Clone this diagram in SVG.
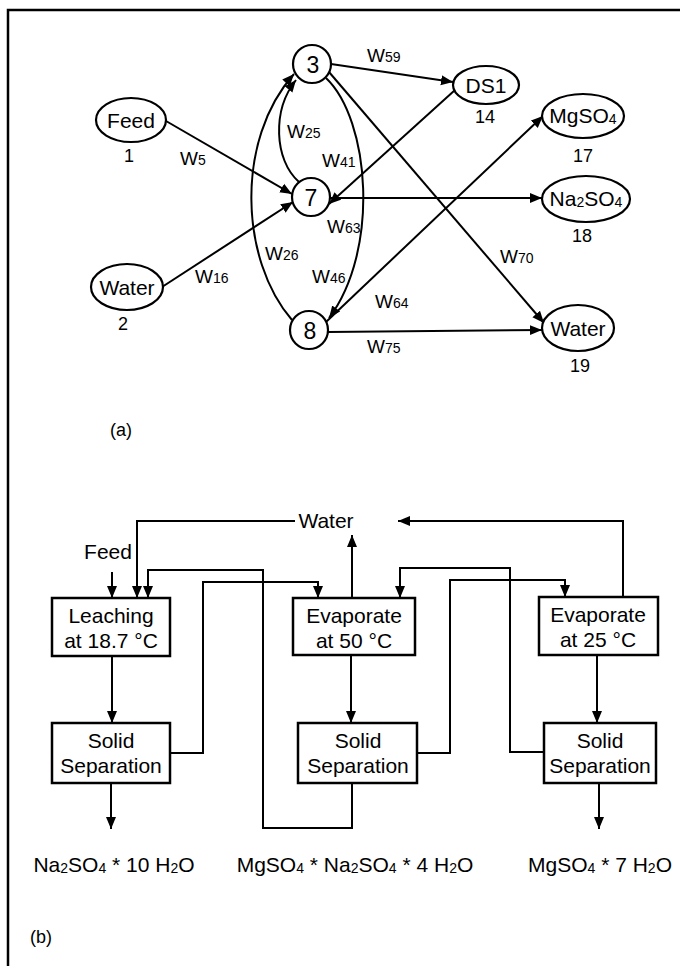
<svg xmlns="http://www.w3.org/2000/svg" width="680" height="966" viewBox="0 0 680 966">
<defs>
<marker id="ah" markerUnits="userSpaceOnUse" markerWidth="13" markerHeight="11" refX="12" refY="5.5" orient="auto">
<path d="M0,0.5 L12,5.5 L0,10.5 z" fill="#000"/>
</marker>
<style>
.ln{fill:none;stroke:#000;stroke-width:2}
.nd{fill:#fff;stroke:#000;stroke-width:2.2}
.bx{fill:#fff;stroke:#000;stroke-width:2.5}
text{font-family:"Liberation Sans",Arial,sans-serif;fill:#000}
.c{text-anchor:middle}
.lb{font-size:21px}
.num{font-size:18px}
.dg{font-size:23px}
.w{font-size:19px}
.s{font-size:14px}
.bt{font-size:21px}
</style>
</defs>
<rect x="0" y="0" width="680" height="966" fill="#fff"/>
<path d="M8,966 L8,10 L680,10" fill="none" stroke="#000" stroke-width="2.5"/>

<g id="connectors">
<line class="ln" x1="166" y1="121" x2="292" y2="194" marker-end="url(#ah)"/>
<line class="ln" x1="162" y1="287" x2="293" y2="202" marker-end="url(#ah)"/>
<line class="ln" x1="331" y1="64" x2="453" y2="82" marker-end="url(#ah)"/>
<line class="ln" x1="455" y1="90" x2="329" y2="204" marker-end="url(#ah)"/>
<line class="ln" x1="329" y1="72" x2="544" y2="323" marker-end="url(#ah)"/>
<line class="ln" x1="330" y1="198" x2="542" y2="198" marker-end="url(#ah)"/>
<line class="ln" x1="326" y1="322" x2="543" y2="116" marker-end="url(#ah)"/>
<line class="ln" x1="328" y1="332" x2="542" y2="330" marker-end="url(#ah)"/>
<path class="ln" d="M299,182 C274,160 272,110 296,80" marker-end="url(#ah)"/>
<path class="ln" d="M292,320 C240,260 235,140 294,74" marker-end="url(#ah)"/>
<path class="ln" d="M326,78 C370,120 380,250 329,318" marker-end="url(#ah)"/>
<line class="ln" x1="112" y1="572" x2="112" y2="598" marker-end="url(#ah)"/>
<path class="ln" d="M295,521 L137,521 L137,598" marker-end="url(#ah)"/>
<path class="ln" d="M623,597 L623,521 L398,521" marker-end="url(#ah)"/>
<line class="ln" x1="352" y1="598" x2="352" y2="535" marker-end="url(#ah)"/>
<path class="ln" d="M352,783 L352,828 L263,828 L263,570 L148,570 L148,598" marker-end="url(#ah)"/>
<path class="ln" d="M170,753 L203,753 L203,582 L318,582 L318,598" marker-end="url(#ah)"/>
<path class="ln" d="M544,752 L510,752 L510,568 L400,568 L400,598" marker-end="url(#ah)"/>
<path class="ln" d="M417,753 L450,753 L450,580 L565,580 L565,597" marker-end="url(#ah)"/>
<line class="ln" x1="112" y1="656" x2="112" y2="723" marker-end="url(#ah)"/>
<line class="ln" x1="351" y1="655" x2="351" y2="723" marker-end="url(#ah)"/>
<line class="ln" x1="597" y1="655" x2="597" y2="723" marker-end="url(#ah)"/>
<line class="ln" x1="111" y1="783" x2="111" y2="829" marker-end="url(#ah)"/>
<line class="ln" x1="599" y1="783" x2="599" y2="829" marker-end="url(#ah)"/>
</g>

<g id="edge-labels">
<text class="w" x="180" y="165">W<tspan class="s">5</tspan></text>
<text class="w" x="195" y="283">W<tspan class="s">16</tspan></text>
<text class="w" x="367" y="62">W<tspan class="s">59</tspan></text>
<text class="w" x="287" y="138">W<tspan class="s">25</tspan></text>
<text class="w" x="322" y="167">W<tspan class="s">41</tspan></text>
<text class="w" x="327" y="233">W<tspan class="s">63</tspan></text>
<text class="w" x="265" y="260">W<tspan class="s">26</tspan></text>
<text class="w" x="312" y="283">W<tspan class="s">46</tspan></text>
<text class="w" x="375" y="308">W<tspan class="s">64</tspan></text>
<text class="w" x="500" y="263">W<tspan class="s">70</tspan></text>
<text class="w" x="367" y="353">W<tspan class="s">75</tspan></text>
</g>

<g id="n3"><circle class="nd" cx="312" cy="64" r="19"/><text class="dg c" x="313" y="73">3</text></g>
<g id="n7"><circle class="nd" cx="311" cy="197" r="19"/><text class="dg c" x="311" y="206">7</text></g>
<g id="n8"><circle class="nd" cx="309" cy="330" r="19"/><text class="dg c" x="310" y="339">8</text></g>
<g id="n1"><ellipse class="nd" cx="131" cy="120" rx="35" ry="22"/><text class="lb c" x="131" y="128">Feed</text><text class="num c" x="129" y="162">1</text></g>
<g id="n2"><ellipse class="nd" cx="127" cy="287" rx="36" ry="23"/><text class="lb c" x="127" y="295">Water</text><text class="num c" x="123" y="330">2</text></g>
<g id="n14"><ellipse class="nd" cx="486" cy="85" rx="33" ry="19"/><text class="lb c" x="486" y="93">DS1</text><text class="num c" x="485" y="123">14</text></g>
<g id="n17"><ellipse class="nd" cx="583" cy="116" rx="41" ry="22"/><text class="lb c" x="583" y="123">MgSO<tspan class="s" dy="1">4</tspan></text><text class="num c" x="583" y="162">17</text></g>
<g id="n18"><ellipse class="nd" cx="586" cy="199" rx="44" ry="23"/><text class="lb c" x="586" y="206">Na<tspan class="s" dy="1">2</tspan><tspan dy="-1">SO</tspan><tspan class="s" dy="1">4</tspan></text><text class="num c" x="582" y="242">18</text></g>
<g id="n19"><ellipse class="nd" cx="578" cy="328" rx="36" ry="23"/><text class="lb c" x="578" y="336">Water</text><text class="num c" x="580" y="372">19</text></g>
<text class="num c" x="121" y="436">(a)</text>

<g id="b-water"><text class="bt c" x="326" y="528">Water</text></g>
<g id="b-feed"><text class="bt c" x="108" y="559">Feed</text></g>
<g id="b-leach"><rect class="bx" x="52" y="598" width="118" height="58"/><text class="bt c" x="111" y="623">Leaching</text><text class="bt c" x="111" y="648">at 18.7 °C</text></g>
<g id="b-evap50"><rect class="bx" x="293" y="598" width="122" height="57"/><text class="bt c" x="354" y="623">Evaporate</text><text class="bt c" x="354" y="648">at 50 °C</text></g>
<g id="b-evap25"><rect class="bx" x="539" y="597" width="119" height="58"/><text class="bt c" x="598" y="622">Evaporate</text><text class="bt c" x="598" y="647">at 25 °C</text></g>
<g id="b-sep1"><rect class="bx" x="52" y="723" width="118" height="60"/><text class="bt c" x="111" y="748">Solid</text><text class="bt c" x="111" y="773">Separation</text></g>
<g id="b-sep2"><rect class="bx" x="298" y="723" width="119" height="60"/><text class="bt c" x="358" y="748">Solid</text><text class="bt c" x="358" y="773">Separation</text></g>
<g id="b-sep3"><rect class="bx" x="544" y="723" width="112" height="60"/><text class="bt c" x="600" y="748">Solid</text><text class="bt c" x="600" y="773">Separation</text></g>
<g id="b-products">
<text class="bt c" x="114" y="872">Na<tspan class="s" dy="1">2</tspan><tspan dy="-1">SO</tspan><tspan class="s" dy="1">4</tspan><tspan dy="-1"> * 10 H</tspan><tspan class="s" dy="1">2</tspan><tspan dy="-1">O</tspan></text>
<text class="bt c" x="355" y="872">MgSO<tspan class="s" dy="1">4</tspan><tspan dy="-1"> * Na</tspan><tspan class="s" dy="1">2</tspan><tspan dy="-1">SO</tspan><tspan class="s" dy="1">4</tspan><tspan dy="-1"> * 4 H</tspan><tspan class="s" dy="1">2</tspan><tspan dy="-1">O</tspan></text>
<text class="bt c" x="600" y="872">MgSO<tspan class="s" dy="1">4</tspan><tspan dy="-1"> * 7 H</tspan><tspan class="s" dy="1">2</tspan><tspan dy="-1">O</tspan></text>
</g>
<text class="num" x="30" y="943">(b)</text>
</svg>
